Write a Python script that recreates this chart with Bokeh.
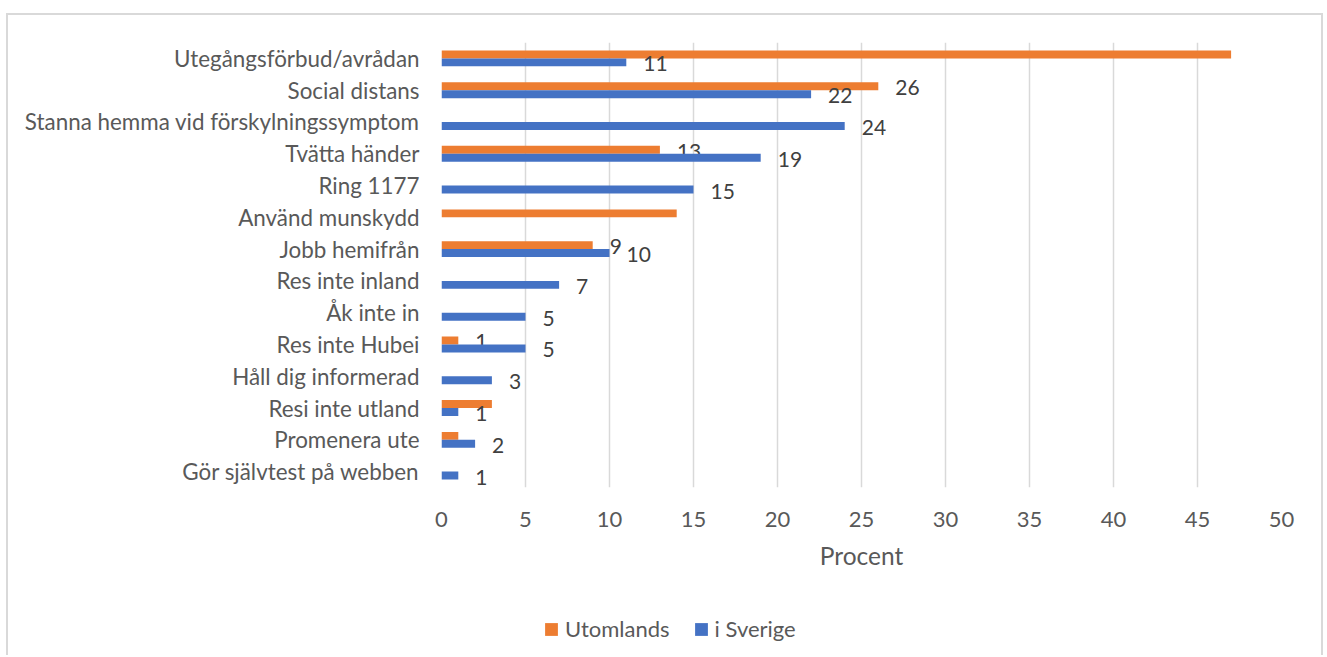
from bokeh.plotting import figure
from bokeh.layouts import column
from bokeh.models import (FactorRange, Range1d, ColumnDataSource, FixedTicker,
                          Legend, LegendItem)
from bokeh.transform import dodge
from bokeh.core.properties import value
from bokeh.embed import file_html
from bokeh.resources import INLINE

# ---------------- data ----------------
categories = [
    "Utegångsförbud/avrådan",
    "Social distans",
    "Stanna hemma vid förskylningssymptom",
    "Tvätta händer",
    "Ring 1177",
    "Använd munskydd",
    "Jobb hemifrån",
    "Res inte inland",
    "Åk inte in",
    "Res inte Hubei",
    "Håll dig informerad",
    "Resi inte utland",
    "Promenera ute",
    "Gör självtest på webben",
]
utomlands = [47, 26, 0, 13, 0, 14, 9, 0, 0, 1, 0, 3, 1, 0]
sverige = [11, 22, 24, 19, 15, 0, 10, 7, 5, 5, 3, 1, 2, 1]
utomlands_labels = [None, "26", None, "13", None, None, "9", None, None, "1",
                    None, None, None, None]
sverige_labels = ["11", "22", "24", "19", "15", None, "10", "7", "5", "5",
                  "3", "1", "2", "1"]
series_names = ["Utomlands", "i Sverige"]
x_ticks = [0, 5, 10, 15, 20, 25, 30, 35, 40, 45, 50]
x_title = "Procent"

# ---------------- style ----------------
FONT = "Lato"
COLORS = ["#ED7D31", "#4472C4"]
TXT = "#595959"
LBL = "#404040"
W = 1313
H_MAIN, H_LEG = 580, 60

p = figure(width=W, height=H_MAIN,
           y_range=FactorRange(factors=categories[::-1], range_padding=0),
           x_range=Range1d(x_ticks[0], x_ticks[-1]),
           output_backend="svg", toolbar_location=None,
           min_border_left=433, min_border_right=40,
           min_border_top=27, min_border_bottom=108)
p.frame_align = False
p.outline_line_color = None
p.background_fill_color = "white"
p.border_fill_color = "white"

offsets = [0.125, -0.125]
for vals, labs, off, col in [(utomlands, utomlands_labels, offsets[0], COLORS[0]),
                             (sverige, sverige_labels, offsets[1], COLORS[1])]:
    cats = [c for c, v in zip(categories, vals) if v > 0]
    vv = [v for v in vals if v > 0]
    src = ColumnDataSource(dict(cat=cats, val=vv))
    p.hbar(y=dodge("cat", off, range=p.y_range), left=0, right="val",
           height=0.25, source=src, fill_color=col, line_color=None)
    lc = [c for c, v, l in zip(categories, vals, labs) if l is not None]
    lv = [v for v, l in zip(vals, labs) if l is not None]
    lt = [l for l in labs if l is not None]
    lsrc = ColumnDataSource(dict(cat=lc, val=lv, txt=lt))
    p.text(x="val", y=dodge("cat", off, range=p.y_range), text="txt",
           source=lsrc, x_offset=17, y_offset=1.5,
           text_align="left", text_baseline="middle",
           text_font=value(FONT), text_font_size="21px", text_color=LBL)

# axes
p.xaxis.ticker = FixedTicker(ticks=x_ticks)
p.xaxis.axis_line_color = None
p.xaxis.major_tick_line_color = None
p.xaxis.minor_tick_line_color = None
p.xaxis.major_tick_out = 0
p.xaxis.major_label_standoff = 24
p.xaxis.major_label_text_font = FONT
p.xaxis.major_label_text_font_size = "22px"
p.xaxis.major_label_text_color = TXT
p.xaxis.axis_label = x_title
p.xaxis.axis_label_text_font = FONT
p.xaxis.axis_label_text_font_size = "24.5px"
p.xaxis.axis_label_text_font_style = "normal"
p.xaxis.axis_label_text_color = TXT
p.xaxis.axis_label_standoff = 11

p.yaxis.axis_line_color = None
p.yaxis.major_tick_line_color = None
p.yaxis.minor_tick_line_color = None
p.yaxis.major_tick_out = 0
p.yaxis.major_label_standoff = 22
p.yaxis.major_label_text_font = FONT
p.yaxis.major_label_text_font_size = "22.4px"
p.yaxis.major_label_text_color = TXT

p.xgrid.grid_line_color = "#d9d9d9"
p.xgrid.grid_line_width = 1.5
p.ygrid.grid_line_color = None

# ---------------- legend strip ----------------
pl = figure(width=W, height=H_LEG, x_range=Range1d(0, 1), y_range=Range1d(0, 1),
            output_backend="svg", toolbar_location=None,
            min_border_left=0, min_border_right=0,
            min_border_top=0, min_border_bottom=0)
pl.frame_align = False
pl.axis.visible = False
pl.grid.grid_line_color = None
pl.outline_line_color = None
pl.background_fill_color = "white"
pl.border_fill_color = "white"
leg_items = []
for name, col in zip(series_names, COLORS):
    # a hidden box (outside the strip's range) that only feeds the legend swatch
    r = pl.quad(left=[-6], right=[-5], bottom=[-6], top=[-5],
                fill_color=col, line_color=None)
    leg_items.append(LegendItem(label=name, renderers=[r]))
legend = Legend(items=leg_items, orientation="horizontal", location=(535, 13),
                padding=0, margin=0, spacing=23, label_standoff=6,
                glyph_width=16, glyph_height=16,
                label_text_font=FONT, label_text_font_size="22px",
                label_text_color=TXT,
                border_line_color=None, background_fill_alpha=0)
pl.add_layout(legend, "center")

layout = column(p, pl, spacing=0)
layout.margin = (13, 0, 0, 6)
layout.styles = {"border-top": "2px solid #d9d9d9",
                 "border-left": "2px solid #d9d9d9",
                 "border-right": "2px solid #d9d9d9"}

open("out.html", "w").write(file_html(layout, INLINE))
